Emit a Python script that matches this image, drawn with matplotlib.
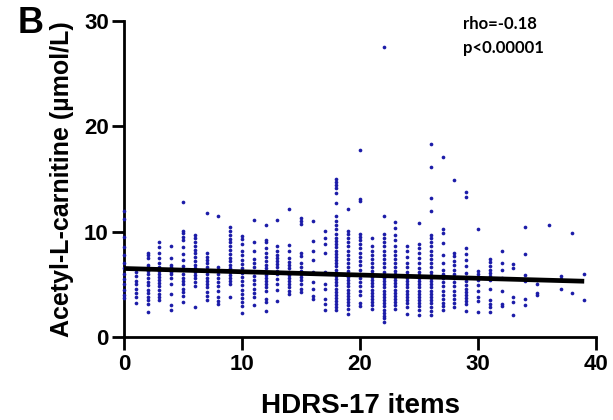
import matplotlib
matplotlib.use("Agg")
import matplotlib.pyplot as plt
import numpy as np

# HDRS-17 score -> Acetyl-L-carnitine values (µmol/L)
acar_by_score = {
    0: [12.0, 11.2, 9.5, 8.5, 7.8, 7.0, 6.5, 6.0, 5.5, 5.0, 4.5, 4.0, 3.7],
    1: [6.2, 5.8, 5.3, 5.0, 4.6, 4.2, 3.8, 3.2],
    2: [8.0, 7.8, 7.5, 6.8, 6.6, 6.3, 6.0, 5.6, 5.2, 4.9, 4.5, 4.2, 3.8, 3.5, 3.1, 2.4],
    3: [9.0, 8.5, 8.0, 7.5, 7.0, 6.6, 6.3, 6.0, 5.7, 5.4, 5.1, 4.8, 4.5, 4.1, 3.8, 3.5],
    4: [8.6, 7.5, 6.8, 6.6, 6.4, 6.2, 6.0, 5.6, 5.0, 4.1, 3.0, 2.6],
    5: [12.8, 10.1, 9.9, 9.5, 9.2, 8.5, 7.9, 7.3, 6.7, 6.4, 6.0, 5.6, 5.3, 5.0, 4.6, 4.3, 3.9, 3.3],
    6: [9.7, 9.4, 9.0, 8.6, 8.3, 8.0, 7.6, 7.2, 6.8, 6.5, 6.2, 5.9, 5.6, 5.2, 4.8, 2.8],
    7: [11.8, 8.0, 7.6, 7.3, 7.0, 6.6, 6.3, 6.0, 5.6, 5.3, 5.0, 4.7, 4.3, 3.9, 3.5],
    8: [11.5, 6.6, 6.3, 6.0, 5.6, 5.2, 4.8, 4.4, 3.8, 3.4, 3.1],
    9: [10.4, 10.1, 9.7, 9.3, 9.0, 8.6, 8.3, 7.9, 7.5, 7.2, 6.8, 6.5, 6.2, 5.9, 5.6, 5.3, 5.0, 3.8],
    10: [9.6, 9.3, 8.8, 8.2, 7.8, 7.3, 6.9, 6.5, 6.1, 5.7, 5.3, 4.9, 4.5, 4.1, 3.7, 3.3, 2.9, 2.3],
    11: [11.1, 9.0, 8.2, 7.4, 7.0, 6.6, 6.2, 5.8, 5.4, 5.0, 4.6, 4.2, 3.8, 3.0],
    12: [10.6, 9.2, 9.0, 8.4, 8.0, 7.6, 7.2, 6.8, 6.5, 6.2, 5.9, 5.6, 5.3, 5.0, 4.7, 4.4, 3.6, 3.3, 2.5],
    13: [11.1, 8.6, 8.2, 7.8, 7.5, 7.2, 6.9, 6.6, 6.3, 6.0, 5.5, 5.0, 4.5, 3.4],
    14: [12.1, 8.7, 8.2, 7.5, 7.1, 6.8, 6.5, 6.2, 5.9, 5.6, 5.3, 5.0, 4.7, 4.4, 4.1],
    15: [11.3, 11.0, 10.7, 8.0, 7.7, 7.0, 6.6, 6.3, 6.0, 5.7, 5.4, 5.0, 4.6, 4.3],
    16: [11.0, 9.1, 8.2, 7.3, 6.2, 5.2, 4.6, 3.9, 3.6],
    17: [10.1, 9.4, 8.8, 8.0, 6.2, 5.0, 4.6, 3.6, 3.1, 2.6],
    18: [15.0, 14.7, 14.4, 14.1, 13.7, 12.7, 11.5, 11.0, 10.6, 10.2, 9.8, 9.4, 9.1, 8.8, 8.5,
         8.2, 7.9, 7.6, 7.3, 7.0, 6.7, 6.4, 6.1, 5.8, 5.5, 5.2, 4.9, 4.6, 4.3, 4.0, 3.7, 3.4,
         3.1, 2.8, 2.6],
    19: [12.1, 10.1, 9.8, 9.4, 9.0, 8.6, 8.2, 7.8, 7.4, 7.0, 6.6, 6.3, 6.0, 5.7, 5.4, 5.1,
         4.8, 4.5, 4.2, 3.9, 3.6, 3.3, 3.0, 2.7, 2.2],
    20: [17.7, 13.1, 12.9, 9.8, 9.5, 9.2, 8.8, 8.4, 8.0, 7.6, 7.2, 6.8, 6.4, 6.0, 5.6, 5.2,
         4.8, 4.4, 4.0, 3.2, 2.9],
    21: [9.4, 8.6, 8.2, 7.8, 7.4, 7.0, 6.6, 6.3, 6.0, 5.7, 5.4, 5.1, 4.8, 4.5, 4.2, 3.9,
         3.6, 3.3, 3.0, 2.7],
    22: [27.5, 11.5, 9.8, 9.4, 9.0, 8.6, 8.2, 7.8, 7.4, 7.0, 6.6, 6.2, 5.9, 5.6, 5.3, 5.0,
         4.7, 4.4, 4.1, 3.8, 3.5, 3.2, 2.9, 2.6, 2.3, 2.0, 1.8, 1.4],
    23: [10.9, 10.3, 9.7, 9.2, 8.6, 8.2, 7.8, 7.4, 7.0, 6.6, 6.3, 6.0, 5.7, 5.4, 5.1, 4.8,
         4.5, 4.2, 3.9, 3.6, 3.3, 3.0, 2.7],
    24: [8.6, 8.2, 7.6, 7.0, 6.6, 6.2, 5.9, 5.6, 5.3, 5.0, 4.7, 4.4, 4.1, 3.8, 3.5, 3.2, 2.8, 2.2],
    25: [10.8, 8.8, 8.4, 8.0, 7.5, 7.0, 6.5, 6.2, 5.9, 5.6, 5.3, 5.0, 4.7, 4.4, 4.1, 3.8,
         3.5, 3.2, 2.9, 2.6, 2.1],
    26: [18.3, 16.1, 13.2, 12.0, 9.7, 9.4, 9.0, 8.6, 8.2, 7.8, 7.4, 7.0, 6.6, 6.2, 5.9, 5.6,
         5.3, 5.0, 4.7, 4.4, 4.1, 3.8, 3.5, 3.2, 2.8, 2.5, 2.1],
    27: [17.1, 10.2, 9.9, 8.9, 7.8, 7.0, 6.4, 6.0, 5.6, 5.2, 4.8, 4.4, 4.0, 3.6, 3.2, 2.9, 2.6],
    28: [14.9, 8.0, 7.7, 7.2, 6.8, 6.4, 6.0, 5.6, 5.2, 4.8, 4.4, 4.0, 3.6, 3.2, 2.8],
    29: [13.8, 13.3, 8.4, 7.9, 7.3, 6.7, 6.1, 5.7, 5.3, 4.9, 4.6, 4.3, 4.0, 3.7, 3.4, 3.1, 2.5],
    30: [10.2, 6.3, 6.0, 5.7, 5.4, 4.9, 4.4, 3.8, 3.4, 2.4],
    31: [7.4, 7.1, 6.7, 6.4, 6.1, 5.8, 5.4, 4.6, 3.5, 3.1, 2.8, 2.4],
    32: [8.2, 7.0, 6.4, 5.6, 4.4, 3.1, 2.9],
    33: [6.9, 6.5, 3.8, 3.3, 2.1],
    34: [10.4, 7.9, 5.9, 5.3, 3.6, 3.0],
    35: [5.4, 5.0, 4.2, 4.0],
    36: [10.6],
    37: [5.8, 5.5, 4.6],
    38: [9.9, 4.2],
    39: [6.0, 3.5],
}

fit_x = [0, 39]
fit_intercept = 6.5
fit_slope = -0.031

x_ticks = [0, 10, 20, 30, 40]
y_ticks = [0, 10, 20, 30]

hdrs = []
acar = []
for k, vals in acar_by_score.items():
    hdrs.extend([k] * len(vals))
    acar.extend(vals)

plt.rcParams['font.family'] = ['Liberation Sans', 'DejaVu Sans']
plt.rcParams['font.weight'] = 'bold'

fig = plt.figure(figsize=(6.13, 4.2), dpi=100)
ax = fig.add_axes([0.2023, 0.1976, 0.7700, 0.7530])

ax.scatter(hdrs, acar, s=7, color='#1c1ca8', linewidths=0, zorder=2, clip_on=False)
fx = np.array(fit_x, dtype=float)
ax.plot(fx, fit_intercept + fit_slope * fx, color='black', lw=3.4, zorder=3,
        solid_capstyle='butt')

ax.set_xlim(0, 40)
ax.set_ylim(0, 30)
ax.set_xticks(x_ticks)
ax.set_yticks(y_ticks)
for s in ['top', 'right']:
    ax.spines[s].set_visible(False)
for s in ['left', 'bottom']:
    ax.spines[s].set_linewidth(2.0)
    ax.spines[s].set_zorder(1.5)
ax.tick_params(axis='both', direction='out', length=9, width=2.0, labelsize=16)
ax.tick_params(axis='y', pad=2)
ax.tick_params(axis='x', pad=3)
for lab in ax.get_xticklabels() + ax.get_yticklabels():
    lab.set_fontweight('bold')

ax.set_xlabel('HDRS-17 items', fontsize=20, fontweight='bold', labelpad=13)
ax.set_ylabel('Acetyl-L-carnitine (µmol/L)', fontsize=18, fontweight='bold', labelpad=7)

fig.text(18 / 613, 1 - 6 / 420, 'B', fontsize=26, fontweight='bold', ha='left', va='top')

ax.text(28.7, 29.7, 'rho=-0.18', fontsize=12, fontweight='bold',
        family=['Lato', 'DejaVu Sans'], ha='left', va='center')
ax.text(28.7, 27.4, 'p<0.00001', fontsize=12, fontweight='bold',
        family=['Lato', 'DejaVu Sans'], ha='left', va='center')

fig.savefig('out.png', dpi=100)
